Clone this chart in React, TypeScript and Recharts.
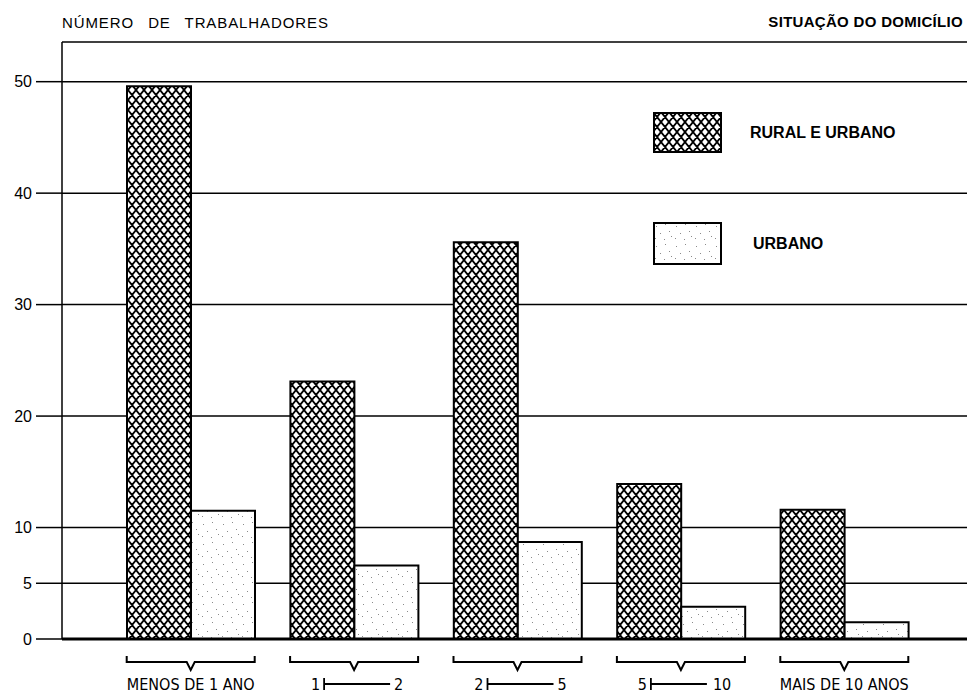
import React from 'react';
import { BarChart, Bar, XAxis, YAxis, CartesianGrid, Legend } from 'recharts';

const categories = ['MENOS DE 1 ANO', '1|2', '2|5', '5|10', 'MAIS DE 10 ANOS'];
const ruralEUrbano = [49.6, 23.1, 35.6, 13.9, 11.6];
const urbano = [11.5, 6.6, 8.7, 2.9, 1.5];
const yTicks = [0, 5, 10, 20, 30, 40, 50];
const seriesNames = ['RURAL E URBANO', 'URBANO'];
const yTitle = 'NÚMERO DE TRABALHADORES';
const legendTitle = 'SITUAÇÃO DO DOMICÍLIO';

const data = categories.map((c, i) => ({ name: c, rural: ruralEUrbano[i], urbano: urbano[i] }));

const FONT = "'Liberation Sans', Arial, sans-serif";
const TICK_FONT = "'DejaVu Sans Condensed', 'Liberation Sans Narrow', 'Liberation Sans', sans-serif";

const HatchPattern = ({ id }: { id: string }) => (
  <pattern id={id} width={8} height={10} patternUnits="userSpaceOnUse">
    <rect width={8} height={10} fill="#fff" />
    <path
      d="M-8,-10 L16,20 M-8,0 L8,20 M0,-10 L16,10 M-8,20 L16,-10 M-8,10 L8,-10 M0,20 L16,0"
      stroke="#000"
      strokeWidth={1.8}
      fill="none"
    />
  </pattern>
);

const DotPattern = ({ id }: { id: string }) => (
  <pattern id={id} width={20} height={20} patternUnits="userSpaceOnUse">
    <rect width={20} height={20} fill="#fff" />
    <g fill="#8a8a8a">
      <rect x={3} y={4} width={1} height={1} />
      <rect x={12} y={2} width={1} height={1} />
      <rect x={7} y={11} width={1} height={1} />
      <rect x={16} y={9} width={1} height={1} />
      <rect x={2} y={16} width={1} height={1} />
      <rect x={11} y={17} width={1} height={1} />
      <rect x={18} y={14} width={1} height={1} />
    </g>
  </pattern>
);

const CategoryTick = (props: any) => {
  const { x, y, payload } = props;
  const label: string = String(payload.value);
  const half = 64;
  const bracket = `M${x - half},${y + 17} L${x - half},${y + 23} L${x - 4},${y + 23} L${x},${y + 31} L${x + 4},${y + 23} L${x + half},${y + 23} L${x + half},${y + 17}`;
  const textStyle = { fontFamily: TICK_FONT, fontSize: 16, fill: '#000' };
  let labelEl: React.ReactNode;
  if (label.includes('|')) {
    const [a, b] = label.split('|');
    const lineEnd = b.length > 1 ? 26 : 36;
    const bStart = b.length > 1 ? 32 : 40;
    labelEl = (
      <g>
        <text x={x - 34} y={y + 51} textAnchor="end" {...textStyle}>{a}</text>
        <line x1={x - 30} y1={y + 39} x2={x - 30} y2={y + 51} stroke="#000" strokeWidth={1.8} />
        <line x1={x - 30} y1={y + 45} x2={x + lineEnd} y2={y + 45} stroke="#000" strokeWidth={1.8} />
        <text x={x + bStart} y={y + 51} textAnchor="start" {...textStyle}>{b}</text>
      </g>
    );
  } else {
    labelEl = (
      <text x={x} y={y + 51} textAnchor="middle" {...textStyle}>{label}</text>
    );
  }
  return (
    <g>
      <path d={bracket} stroke="#000" strokeWidth={2} fill="none" />
      {labelEl}
    </g>
  );
};

const renderLegend = () => (
  <div style={{ position: 'relative', width: 260, height: 155, fontFamily: FONT, fontWeight: 700, fontSize: 16, color: '#000' }}>
    {seriesNames.map((n, i) => (
      <div key={n} style={{ position: 'absolute', left: 0, top: i * 110, width: 260, height: 42 }}>
        <svg width={70} height={43} style={{ position: 'absolute', left: 0, top: 0 }}>
          <defs>
            {i === 0 ? <HatchPattern id={`leg${i}`} /> : <DotPattern id={`leg${i}`} />}
          </defs>
          <rect x={1} y={1} width={67} height={i === 0 ? 39 : 41} fill={`url(#leg${i})`} stroke="#000" strokeWidth={2} />
        </svg>
        <div style={{ position: 'absolute', left: i === 0 ? 97 : 100, top: 0, height: i === 0 ? 41 : 43, lineHeight: (i === 0 ? 41 : 43) + 'px', whiteSpace: 'nowrap' }}>{n}</div>
      </div>
    ))}
  </div>
);

export default function App() {
  return (
    <div style={{ position: 'absolute', left: 0, top: 0, width: 974, height: 695, background: '#fff' }}>
      <BarChart
        width={974}
        height={695}
        data={data}
        margin={{ top: 42, right: 7, left: 0, bottom: 0 }}
        barCategoryGap={18}
        barGap={0}
      >
        <defs>
          <HatchPattern id="hatchMain" />
          <DotPattern id="dotMain" />
        </defs>
        <CartesianGrid vertical={false} stroke="#000" strokeWidth={1.5} />
        <XAxis
          dataKey="name"
          interval={0}
          height={56}
          padding={{ left: 47, right: 41 }}
          axisLine={{ stroke: '#000', strokeWidth: 3 }}
          tickLine={false}
          tickSize={0}
          tickMargin={0}
          tick={<CategoryTick />}
        />
        <XAxis
          xAxisId="top"
          orientation="top"
          dataKey="name"
          height={0}
          tick={false}
          tickLine={false}
          axisLine={{ stroke: '#000', strokeWidth: 2 }}
        />
        <YAxis
          type="number"
          domain={[0, 53.56]}
          ticks={yTicks}
          interval={0}
          width={62}
          axisLine={{ stroke: '#000', strokeWidth: 1.5 }}
          tickLine={{ stroke: '#000', strokeWidth: 1.5 }}
          tickSize={26}
          tickMargin={4}
          tick={{ fill: '#000', fontSize: 16, fontFamily: FONT }}
        />
        <YAxis
          yAxisId="right"
          orientation="right"
          width={0}
          tick={false}
          tickLine={false}
          axisLine={{ stroke: '#000', strokeWidth: 2 }}
        />
        <Legend
          layout="horizontal"
          verticalAlign="middle"
          align="center"
          content={renderLegend}
          wrapperStyle={{ left: 653, top: 112, width: 260, height: 155 }}
        />
        <Bar dataKey="rural" name={seriesNames[0]} fill="url(#hatchMain)" stroke="#000" strokeWidth={2} isAnimationActive={false} />
        <Bar dataKey="urbano" name={seriesNames[1]} fill="url(#dotMain)" stroke="#000" strokeWidth={2} isAnimationActive={false} />
      </BarChart>
      <svg width={974} height={695} style={{ position: 'absolute', left: 0, top: 0, pointerEvents: 'none' }}>
        <text x={62} y={28} fontFamily={FONT} fontSize={15} letterSpacing={0.9} wordSpacing={9} fill="#000">{yTitle}</text>
        <text x={963} y={27} fontFamily={FONT} fontSize={15} fontWeight={700} letterSpacing={0.3} textAnchor="end" fill="#000">{legendTitle}</text>
      </svg>
    </div>
  );
}
